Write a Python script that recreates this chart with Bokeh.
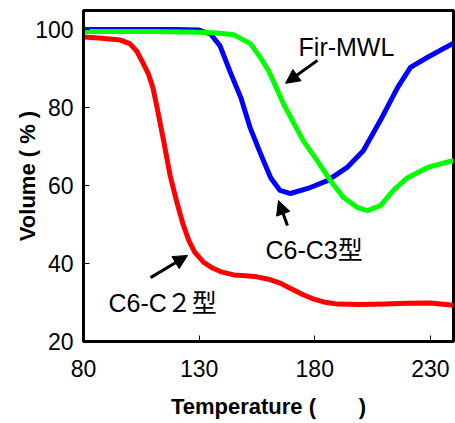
from bokeh.plotting import figure
from bokeh.models import FixedTicker, Arrow, NormalHead, Range1d
from bokeh.core.properties import value
from bokeh.embed import file_html
from bokeh.resources import INLINE

# ---- data ----
red_t = [80, 88, 96, 100, 103, 105.5, 108, 110, 112, 114.5, 117.5, 120.5, 123, 125.5, 128,
         132, 136, 140, 145, 150, 155, 160, 165, 170, 175, 180, 185, 190, 200, 210, 220, 230, 240]
red_v = [98.2, 97.9, 97.4, 96.5, 94.6, 91.8, 88.8, 85.2, 79.5, 72.0, 62.5, 55.5, 50.2, 46.0, 43.0,
         40.3, 38.8, 37.8, 37.1, 36.9, 36.6, 36.0, 35.0, 33.5, 32.0, 30.8, 30.0, 29.6, 29.5, 29.6,
         29.8, 29.9, 29.3]

blue_t = [80, 100, 120, 130, 135, 139, 143.6, 148, 152, 156.5, 161, 165, 169.5, 177, 185.5,
          194, 201, 208.4, 215.8, 221.4, 228.8, 240]
blue_v = [100.1, 100.1, 100.1, 100.0, 98.9, 96.0, 89.0, 82.7, 75.0, 68.3, 62.0, 58.8, 58.0, 59.3,
          61.3, 64.7, 69.0, 76.8, 85.2, 90.4, 93.0, 96.6]

green_t = [80, 110, 130, 138, 144.9, 152.2, 156.5, 160, 162, 166.5, 171, 175, 181, 186.8,
           192.4, 198.5, 202.8, 208.4, 214, 220, 228.8, 240]
green_v = [99.6, 99.6, 99.4, 99.2, 98.8, 96.5, 92.9, 89.6, 87.0, 81.0, 76.0, 71.6, 66.5, 61.3,
           57.0, 54.4, 53.6, 54.9, 58.8, 62.0, 64.7, 66.5]

x_ticks = [80, 130, 180, 230]
y_ticks = [20, 40, 60, 80, 100]

labels = ["Fir-MWL", "C6-C3型", "C6-C２型"]
label_x = [173, 158.7, 90.8]
label_y = [95.5, 43.4, 30.0]

# arrows: (x_start, y_start, x_end, y_end)
arrows = [(181.2, 92.2, 167.4, 86.3),
          (168.2, 49.8, 164.3, 56.2),
          (109.0, 36.4, 125.0, 42.1)]

FONT = "Liberation Sans, Noto Sans CJK SC"

p = figure(width=455, height=423, output_backend="svg", toolbar_location=None,
           x_range=Range1d(80, 240), y_range=Range1d(20, 105),
           min_border_left=83, min_border_right=2, min_border_top=10, min_border_bottom=82)

p.xgrid.visible = False
p.ygrid.visible = False
p.outline_line_color = "black"
p.outline_line_width = 3
p.background_fill_color = "white"
p.border_fill_color = "white"

p.line(red_t, red_v, line_color="#ff0000", line_width=5, line_join="round")
p.line(blue_t, blue_v, line_color="#0000ff", line_width=5, line_join="round")
p.line(green_t, green_v, line_color="#00ff00", line_width=5, line_join="round")

for ax in (p.xaxis[0], p.yaxis[0]):
    ax.axis_line_width = 3
    ax.axis_line_color = "black"
    ax.major_tick_in = 6
    ax.major_tick_out = 0
    ax.major_tick_line_width = 1
    ax.minor_tick_line_color = None
    ax.major_label_text_font = "Liberation Sans"
    ax.major_label_text_font_size = "23px"
    ax.major_label_text_color = "black"
    ax.axis_label_text_font = "Liberation Sans"
    ax.axis_label_text_font_style = "bold"
    ax.axis_label_text_font_size = "22px"
    ax.axis_label_text_color = "black"

p.xaxis.ticker = FixedTicker(ticks=x_ticks)
p.yaxis.ticker = FixedTicker(ticks=y_ticks)
p.xaxis.axis_label = "Temperature (" + "\u00a0" * 7 + ")"
p.yaxis.axis_label = "Volume ( % )"
p.xaxis.major_label_standoff = 18
p.yaxis.major_label_standoff = 10
p.xaxis.axis_label_standoff = 14
p.yaxis.axis_label_standoff = -8

p.text(x=label_x, y=label_y, text=labels, text_font=value(FONT),
       text_font_size="25px", text_baseline="middle", text_align="left", text_color="black")

for xs, ys, xe, ye in arrows:
    p.add_layout(Arrow(end=NormalHead(size=14, fill_color="black", line_color="black"),
                       x_start=xs, y_start=ys, x_end=xe, y_end=ye,
                       line_width=3, line_color="black"))

open("out.html", "w").write(file_html(p, INLINE))
